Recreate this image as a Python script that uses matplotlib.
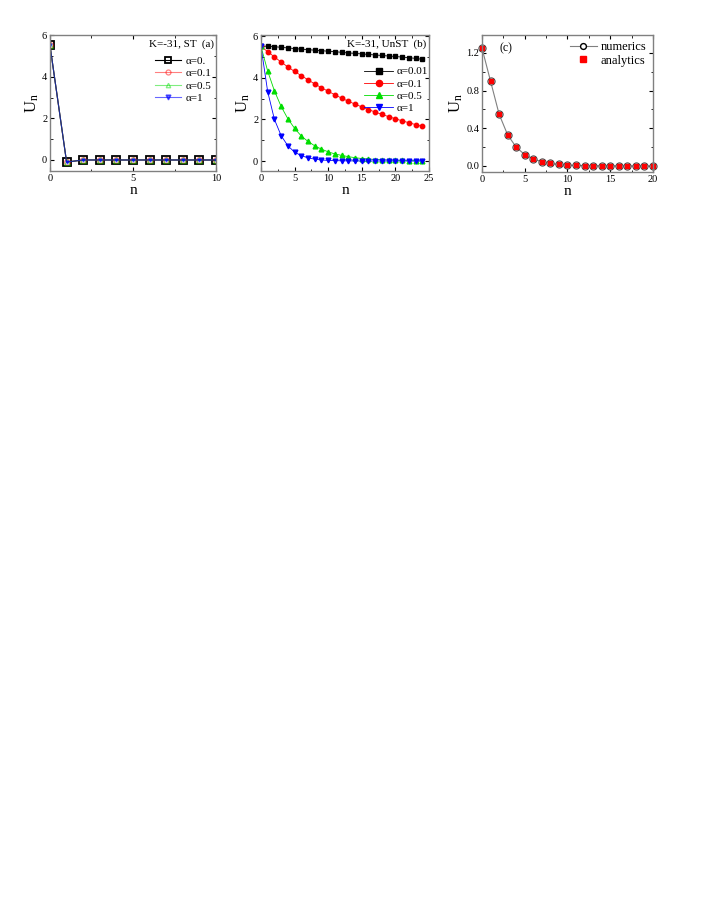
"""Three-panel U_n vs n figure (ST / UnST / numerics vs analytics) -> out.png."""
import numpy as np
import matplotlib
matplotlib.use("Agg")
from matplotlib import pyplot as plt
from matplotlib.lines import Line2D
from matplotlib.ticker import MultipleLocator

plt.rcParams["font.family"] = ["Liberation Serif", "DejaVu Serif"]
plt.rcParams["mathtext.fontset"] = "stix"

# panel (a): stable, K=-31
n_a = list(range(11))
u_a = [5.5, -0.1, 0.0, 0.0, 0.0, 0.0, 0.0, 0.0, 0.0, 0.0, 0.0]
alpha_a = ["α=0.", "α=0.1", "α=0.5", "α=1"]

# panel (b): unstable, K=-31
n_b = list(range(25))
u_b001 = [5.5, 5.52, 5.49, 5.46, 5.43, 5.4, 5.37, 5.35, 5.32, 5.3, 5.27, 5.25, 5.22,
          5.19, 5.17, 5.14, 5.12, 5.09, 5.07, 5.04, 5.02, 4.99, 4.96, 4.93, 4.88]
u_b01 = [5.5, 5.25, 5.0, 4.75, 4.52, 4.3, 4.1, 3.9, 3.7, 3.52, 3.35, 3.18, 3.02,
         2.87, 2.73, 2.6, 2.47, 2.35, 2.24, 2.13, 2.03, 1.93, 1.84, 1.75, 1.66]
u_b05 = [5.5, 4.32, 3.37, 2.62, 2.03, 1.57, 1.2, 0.94, 0.73, 0.57, 0.44, 0.34, 0.27,
         0.21, 0.16, 0.12, 0.1, 0.07, 0.06, 0.045, 0.035, 0.027, 0.02, 0.016, 0.012]
u_b1 = [5.5, 3.33, 2.0, 1.22, 0.73, 0.43, 0.26, 0.15, 0.09, 0.05, 0.03, 0.02, 0.012,
        0.008, 0.005, 0.003, 0.002, 0.001, 0.0, 0.0, 0.0, 0.0, 0.0, 0.0, 0.0]
alpha_b = ["α=0.01", "α=0.1", "α=0.5", "α=1"]

# panel (c): numerics vs analytics
n_c = list(range(21))
u_num = [1.25, 0.9, 0.55, 0.33, 0.2, 0.12, 0.075, 0.045, 0.027, 0.016, 0.01, 0.006,
         0.004, 0.002, 0.0015, 0.001, 0.0005, 0.0003, 0.0002, 0.0001, 0.0]
u_ana = [1.25, 0.9, 0.55, 0.33, 0.2, 0.12, 0.075, 0.045, 0.027, 0.016, 0.01, 0.006,
         0.004, 0.002, 0.0015, 0.001, 0.0005, 0.0003, 0.0002, 0.0001, 0.0]

COLS = ["black", "red", "#00dd00", "blue"]
FRAME = "#808080"


def style(ax, xmaj, ymaj, xlim, ylim):
    ax.set_xlim(*xlim); ax.set_ylim(*ylim)
    ax.xaxis.set_major_locator(MultipleLocator(xmaj))
    ax.xaxis.set_minor_locator(MultipleLocator(xmaj / 2))
    ax.yaxis.set_major_locator(MultipleLocator(ymaj))
    ax.yaxis.set_minor_locator(MultipleLocator(ymaj / 2))
    ax.tick_params(which="both", direction="in", top=True, right=True,
                   labelsize=7.5, pad=2, color="black")
    ax.tick_params(which="major", length=3)
    ax.tick_params(which="minor", length=1.8)
    for s in ax.spines.values():
        s.set_color(FRAME); s.set_linewidth(1.0)
    ax.set_xlabel("n", fontsize=11, labelpad=1)
    ax.set_ylabel("U$_\\mathregular{n}$", fontsize=12, labelpad=1)


fig = plt.figure(figsize=(7.08, 9.17), dpi=100)
axa = fig.add_axes([0.0706, 0.8135, 0.2345, 0.1483])
axb = fig.add_axes([0.3686, 0.8135, 0.2373, 0.1483])
axc = fig.add_axes([0.6808, 0.8124, 0.2415, 0.1494])

# (a)
mk_a = [dict(marker="s", ms=5.5, mfc="none", mec="black", mew=1.3),
        dict(marker="o", ms=4.2, mfc="none", mec="red", mew=0.9),
        dict(marker="^", ms=3.8, mfc="none", mec="#00dd00", mew=0.9),
        dict(marker="v", ms=2.2, mfc="blue", mec="blue")]
lw_a = [0.8, 0.8, 0.8, 0.8]
al_a = [1.0, 0.5, 0.5, 0.6]
for c, lab, mk, lw, al in zip(COLS, alpha_a, mk_a, lw_a, al_a):
    axa.plot(n_a, u_a, "-", color=c, lw=lw, alpha=al, label=lab, **mk)
style(axa, 5, 2, (0, 10), (-0.53, 6.0))
hd_a = [Line2D([], [], color=c, lw=0.8, alpha=al, **dict(mk, ms=mk["ms"] * 0.85))
        for c, mk, al in zip(COLS, mk_a, al_a)]
hd_a[3].set_markersize(3.5)
axa.legend(hd_a, alpha_a, loc="upper right", fontsize=8, frameon=False, handlelength=2.4,
           handletextpad=0.4, labelspacing=0.25, borderaxespad=0.0,
           bbox_to_anchor=(1.0, 0.88))
axa.text(0.985, 0.965, "K=-31, ST  (a)", transform=axa.transAxes, ha="right", va="top",
         fontsize=8)

# (b)
series_b = [u_b001, u_b01, u_b05, u_b1]
mk_b = ["s", "o", "^", "v"]
ms_b = [2.8, 3.2, 3.4, 3.4]
for c, lab, ys, m, ms in zip(COLS, alpha_b, series_b, mk_b, ms_b):
    axb.plot(n_b, ys, "-", color=c, lw=0.6, marker=m, ms=ms, mfc=c, mec=c, label=lab)
style(axb, 5, 2, (0, 25), (-0.48, 6.05))
axb.legend(loc="upper right", fontsize=8, frameon=False, handlelength=2.6,
           handletextpad=0.3, labelspacing=0.22, borderaxespad=0.0,
           bbox_to_anchor=(1.02, 0.80), markerscale=1.4)
axb.text(0.985, 0.965, "K=-31, UnST  (b)", transform=axb.transAxes, ha="right", va="top",
         fontsize=8)

# (c)
axc.plot(n_c, u_num, "-", color="#808080", lw=0.8, marker="o", ms=5.2, mfc="#c8c8c8",
         mec="#404040", mew=0.7, label="numerics", clip_on=False)
axc.plot(n_c, u_ana, "s", color="red", ms=3.4, ls="none", label="analytics", clip_on=False)
style(axc, 5, 0.4, (0, 20), (-0.064, 1.39))
h0 = Line2D([], [], color="#808080", lw=0.8, marker="o", ms=4.2, mfc="white", mec="black")
h1 = Line2D([], [], color="red", ls="none", marker="s", ms=4)
axc.legend([h0, h1], ["numerics", "analytics"], loc="upper right", fontsize=9,
           frameon=False, handlelength=2.2, handletextpad=0.3, labelspacing=0.1,
           borderaxespad=0.1)
axc.text(0.1, 0.95, "(c)", transform=axc.transAxes, ha="left", va="top", fontsize=8.5)

fig.savefig("out.png", dpi=100)
